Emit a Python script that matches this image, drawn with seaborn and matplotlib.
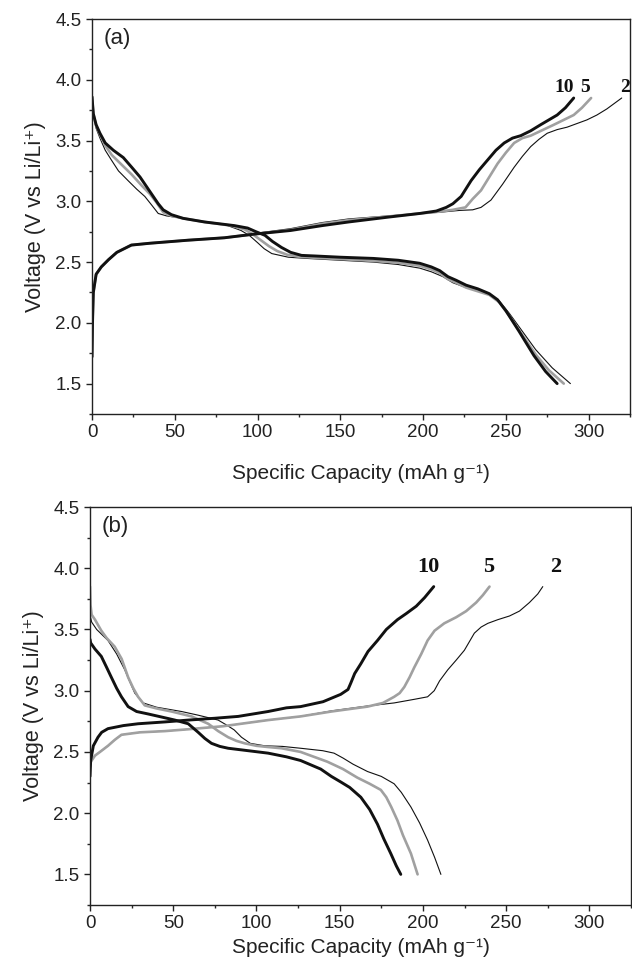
import matplotlib
matplotlib.use("Agg")
import matplotlib.pyplot as plt
import seaborn as sns
from matplotlib.ticker import MultipleLocator

# ---------------- data: panel (a) ----------------
a_chg10_x = [0, 0.3, 0.8, 2.5, 5.6, 10, 15, 23.8, 35, 58, 80, 98, 120, 139, 155, 179, 198, 208, 214, 218, 223, 229, 234, 239, 244, 249, 254, 259, 265, 271, 276, 281, 286, 291]
a_chg10_v = [1.72, 2.0, 2.25, 2.40, 2.46, 2.52, 2.58, 2.64, 2.655, 2.68, 2.70, 2.73, 2.76, 2.80, 2.83, 2.87, 2.90, 2.92, 2.95, 2.98, 3.04, 3.17, 3.26, 3.34, 3.42, 3.48, 3.52, 3.54, 3.58, 3.63, 3.67, 3.71, 3.77, 3.85]
a_chg5_x = [0, 0.3, 0.8, 2.5, 5.6, 10, 15, 23.8, 35, 58, 80, 98, 120, 139, 155, 179, 198, 210, 218, 225.6, 230, 235, 240, 245, 250, 255, 260, 265, 272, 279, 285, 291, 296, 301.5]
a_chg5_v = [1.72, 2.0, 2.25, 2.40, 2.46, 2.52, 2.58, 2.64, 2.655, 2.68, 2.70, 2.73, 2.765, 2.815, 2.845, 2.875, 2.90, 2.915, 2.93, 2.95, 3.02, 3.09, 3.20, 3.31, 3.40, 3.48, 3.52, 3.54, 3.585, 3.63, 3.67, 3.71, 3.77, 3.85]
a_chg2_x = [0, 0.3, 0.8, 2.5, 5.6, 10, 15, 23.8, 35, 58, 80, 98, 120, 139, 155, 179, 198, 210, 222, 230, 235, 241, 248, 255, 260, 265, 270, 275, 281, 287, 293, 299, 305, 311, 316, 320]
a_chg2_v = [1.72, 2.0, 2.25, 2.40, 2.46, 2.52, 2.58, 2.64, 2.655, 2.68, 2.70, 2.735, 2.775, 2.825, 2.855, 2.88, 2.90, 2.91, 2.925, 2.93, 2.95, 3.01, 3.14, 3.28, 3.37, 3.45, 3.51, 3.56, 3.59, 3.61, 3.64, 3.67, 3.71, 3.76, 3.81, 3.85]

a_dis10_x = [0, 0.8, 2.5, 4.8, 8, 12.9, 18.9, 24, 29, 33, 37, 40, 43, 48, 55, 68, 86, 94, 99, 104.5, 109, 114.5, 120, 126.6, 135, 150, 170, 185, 198, 205, 210, 215, 220, 226, 233, 240, 245, 250, 258, 267, 274, 281]
a_dis10_v = [3.86, 3.72, 3.63, 3.56, 3.48, 3.42, 3.36, 3.28, 3.20, 3.12, 3.04, 2.98, 2.93, 2.89, 2.86, 2.83, 2.80, 2.78, 2.75, 2.72, 2.67, 2.62, 2.58, 2.555, 2.55, 2.54, 2.53, 2.515, 2.49, 2.46, 2.43, 2.38, 2.35, 2.31, 2.28, 2.24, 2.19, 2.10, 1.93, 1.73, 1.60, 1.50]
a_dis5_x = [0, 0.8, 2.5, 4.8, 8, 12, 18, 24, 30, 35, 39, 43, 48, 55, 68, 84, 92, 97, 102, 107, 112, 118, 125, 135, 150, 170, 185, 198, 205, 210, 215, 220, 226, 233, 240, 246, 252, 260, 268, 276, 285]
a_dis5_v = [3.86, 3.72, 3.62, 3.55, 3.46, 3.38, 3.30, 3.22, 3.13, 3.06, 2.99, 2.91, 2.88, 2.86, 2.83, 2.80, 2.77, 2.73, 2.68, 2.63, 2.59, 2.56, 2.545, 2.535, 2.525, 2.51, 2.495, 2.47, 2.44, 2.41, 2.36, 2.33, 2.29, 2.26, 2.23, 2.17, 2.06, 1.90, 1.74, 1.61, 1.50]
a_dis2_x = [0, 0.8, 2.5, 4.8, 8, 11.7, 16, 21.8, 27, 31.9, 36, 40, 45, 55, 68, 80, 90, 95, 100, 104, 108.6, 118.6, 130, 150, 170, 185, 198, 205, 212, 218, 224, 232, 240, 246, 252, 260, 268, 278, 289]
a_dis2_v = [3.86, 3.72, 3.60, 3.52, 3.42, 3.34, 3.25, 3.17, 3.10, 3.04, 2.97, 2.90, 2.88, 2.86, 2.83, 2.81, 2.76, 2.72, 2.66, 2.61, 2.57, 2.54, 2.53, 2.515, 2.50, 2.48, 2.45, 2.42, 2.38, 2.33, 2.30, 2.27, 2.23, 2.18, 2.08, 1.93, 1.78, 1.63, 1.50]

# ---------------- data: panel (b) ----------------
b_chg10_x = [0, 0.4, 2, 4.8, 7, 10.8, 20, 28.9, 45, 59, 75, 89, 107, 118, 126.5, 140, 150.6, 155, 156.6, 159, 162.7, 167, 172.7, 178, 184.7, 190, 196, 201, 206.5]
b_chg10_v = [2.30, 2.43, 2.55, 2.62, 2.66, 2.69, 2.715, 2.73, 2.745, 2.76, 2.775, 2.79, 2.83, 2.86, 2.87, 2.91, 2.97, 3.01, 3.06, 3.14, 3.22, 3.32, 3.41, 3.50, 3.58, 3.63, 3.69, 3.76, 3.85]
b_chg5_x = [0, 0.5, 3, 6, 10.8, 15, 18.9, 30, 45, 59, 80, 107, 126.5, 145, 166.7, 176, 182.7, 186, 188.8, 192, 194.8, 199, 202.8, 207, 212.8, 220, 226, 232, 236, 240]
b_chg5_v = [2.38, 2.42, 2.47, 2.50, 2.55, 2.60, 2.64, 2.66, 2.67, 2.685, 2.71, 2.76, 2.79, 2.83, 2.87, 2.90, 2.95, 2.98, 3.03, 3.11, 3.19, 3.30, 3.41, 3.49, 3.55, 3.60, 3.65, 3.72, 3.78, 3.85]
b_chg2_x = [0, 0.5, 3, 6, 10.8, 15, 18.9, 30, 45, 59, 80, 107, 126.5, 145, 166.7, 182.7, 195, 202.8, 206.8, 210, 214.9, 220, 224.9, 230.9, 235, 239, 245, 252, 258, 264, 269, 272]
b_chg2_v = [2.38, 2.42, 2.47, 2.50, 2.55, 2.60, 2.64, 2.66, 2.67, 2.685, 2.71, 2.76, 2.79, 2.835, 2.875, 2.90, 2.93, 2.95, 3.00, 3.08, 3.17, 3.25, 3.33, 3.47, 3.52, 3.55, 3.58, 3.61, 3.65, 3.72, 3.79, 3.85]

b_dis10_x = [0, 0.4, 3, 6.8, 10, 12.8, 16, 18.9, 22.9, 28, 34.9, 43, 51, 59, 65, 69, 73, 78, 83, 95, 107, 118, 126.5, 138.6, 145, 150.6, 156, 162.7, 168, 172.7, 176.5, 180.7, 184, 186.7]
b_dis10_v = [3.42, 3.39, 3.34, 3.28, 3.19, 3.11, 3.02, 2.95, 2.87, 2.83, 2.81, 2.785, 2.76, 2.73, 2.66, 2.61, 2.57, 2.545, 2.53, 2.51, 2.49, 2.46, 2.43, 2.36, 2.30, 2.255, 2.21, 2.13, 2.03, 1.91, 1.79, 1.67, 1.57, 1.50]
b_dis5_x = [0, 0.3, 1, 3, 6.8, 10, 14.8, 19, 22.9, 26, 28.9, 32.9, 40, 49, 61, 71, 77, 83, 88, 93, 100, 107, 115, 126.5, 142.6, 152, 160.6, 168, 174.7, 178, 181, 184.7, 188, 192.8, 196.8]
b_dis5_v = [3.85, 3.70, 3.62, 3.58, 3.49, 3.43, 3.36, 3.26, 3.11, 3.02, 2.95, 2.88, 2.855, 2.83, 2.79, 2.73, 2.67, 2.62, 2.59, 2.57, 2.55, 2.54, 2.53, 2.50, 2.42, 2.36, 2.29, 2.24, 2.19, 2.13, 2.05, 1.94, 1.82, 1.67, 1.50]
b_dis2_x = [0, 0.3, 1, 4, 10.8, 16, 20.9, 24, 26.9, 32, 40, 55, 65, 77, 82, 86.6, 91, 96.3, 105, 115.6, 126.5, 139.8, 146.6, 152, 158, 166.7, 175, 182.7, 187, 192.8, 198, 202.8, 207, 210.8]
b_dis2_v = [3.70, 3.60, 3.56, 3.50, 3.41, 3.30, 3.17, 3.07, 2.98, 2.90, 2.865, 2.83, 2.80, 2.76, 2.72, 2.68, 2.62, 2.57, 2.55, 2.545, 2.53, 2.51, 2.49, 2.45, 2.40, 2.34, 2.30, 2.24, 2.17, 2.05, 1.92, 1.78, 1.64, 1.50]

rate_labels = ["10", "5", "2"]
a_label_x = [285, 298, 322]
a_label_y = 3.935
b_label_x = [203.5, 239.5, 279.7]
b_label_y = 4.01

xticks = [0, 50, 100, 150, 200, 250, 300]
yticks = [1.5, 2.0, 2.5, 3.0, 3.5, 4.0, 4.5]

# ---------------- style ----------------
sns.set_style("ticks")
plt.rcParams["font.family"] = ["Liberation Sans", "DejaVu Sans"]
plt.rcParams["axes.linewidth"] = 1.0

styles = {
    "10": dict(color="#111111", lw=2.1),
    "5": dict(color="#a0a0a0", lw=1.9),
    "2": dict(color="#111111", lw=0.8),
}

fig = plt.figure(figsize=(6.32, 9.66), dpi=100)
ax_a = fig.add_axes([92 / 632, 1 - 414 / 966, (630 - 92) / 632, (414 - 19) / 966])
ax_b = fig.add_axes([90 / 632, 1 - 905 / 966, (631 - 90) / 632, (905 - 507) / 966])

curves_a = [
    ("2", a_chg2_x, a_chg2_v), ("2", a_dis2_x, a_dis2_v),
    ("5", a_chg5_x, a_chg5_v), ("5", a_dis5_x, a_dis5_v),
    ("10", a_chg10_x, a_chg10_v), ("10", a_dis10_x, a_dis10_v),
]
curves_b = [
    ("2", b_chg2_x, b_chg2_v), ("2", b_dis2_x, b_dis2_v),
    ("5", b_chg5_x, b_chg5_v), ("5", b_dis5_x, b_dis5_v),
    ("10", b_chg10_x, b_chg10_v), ("10", b_dis10_x, b_dis10_v),
]


def draw(ax, curves, letter, lab_x, lab_y, lab_size, labelpad):
    for rate, xs, vs in curves:
        sns.lineplot(x=xs, y=vs, ax=ax, sort=False, estimator=None,
                     solid_capstyle="round", **styles[rate])
    ax.set_xlim(0, 325)
    ax.set_ylim(1.25, 4.5)
    ax.set_xticks(xticks)
    ax.set_yticks(yticks)
    ax.set_xticklabels([str(t) for t in xticks])
    ax.set_yticklabels([f"{t:.1f}" for t in yticks])
    ax.xaxis.set_minor_locator(MultipleLocator(25))
    ax.yaxis.set_minor_locator(MultipleLocator(0.25))
    ax.tick_params(which="major", direction="out", length=4, width=1,
                   labelsize=13.5, colors="#222222", top=False, right=False)
    ax.tick_params(which="minor", direction="out", length=2.2, width=1,
                   top=False, right=False)
    for s in ax.spines.values():
        s.set_visible(True)
        s.set_color("#222222")
        s.set_linewidth(1.0)
    ax.set_xlabel("Specific Capacity (mAh g⁻¹)", fontsize=15, labelpad=labelpad,
                  color="#222222")
    ax.set_ylabel("Voltage (V vs Li/Li⁺)", fontsize=15.5, labelpad=7,
                  color="#222222")
    ax.text(0.022, 0.978, letter, transform=ax.transAxes, ha="left", va="top",
            fontsize=16, color="#222222")
    for lab, lx in zip(rate_labels, lab_x):
        ax.text(lx, lab_y, lab, ha="center", va="center", fontsize=lab_size,
                fontweight="bold", family="Liberation Serif", color="#111111")


draw(ax_a, curves_a, "(a)", a_label_x, a_label_y, 14, 16)
draw(ax_b, curves_b, "(b)", b_label_x, b_label_y, 16, 4)

fig.savefig("out.png", dpi=100)
